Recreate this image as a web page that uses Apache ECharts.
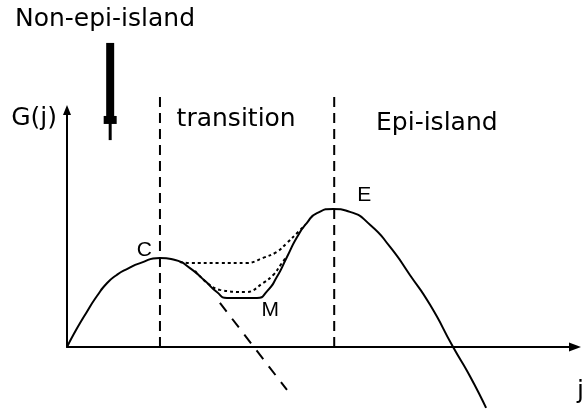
<!DOCTYPE html>
<html><head><meta charset="utf-8">
<script src="https://cdn.jsdelivr.net/npm/echarts@6/dist/echarts.min.js"></script>
<style>html,body{margin:0;padding:0;background:#fff}#c{width:582px;height:417px}</style>
</head><body><div id="c"></div><script>
// ---- data (j, G(j)) in arbitrary schematic units ----
const mainCurve = [[0,0],[0.20,0.80],[0.39,1.48],[0.59,2.15],[0.79,2.70],[0.98,3.04],[1.18,3.29],[1.44,3.54],[1.83,3.76],[2.13,3.67],[2.42,3.33],[2.72,2.78],[2.95,2.32],[3.15,2.07],[3.45,2.07],[3.74,2.07],[3.94,2.36],[4.13,2.95],[4.33,3.80],[4.53,4.64],[4.72,5.23],[4.92,5.65],[5.24,5.82],[5.57,5.70],[5.97,5.15],[6.36,4.22],[6.75,3.04],[7.15,1.77],[7.60,0],[7.93,-1.22],[8.25,-2.57]];
const upperBranch = [[2.22,3.59],[2.42,3.54],[3.01,3.54],[3.54,3.54],[3.86,3.76],[4.13,4.01],[4.33,4.39],[4.53,4.81],[4.69,5.15]];
const lowerBranch = [[2.52,3.21],[2.76,2.70],[3.01,2.41],[3.54,2.32],[3.86,2.70],[4.06,3.04],[4.23,3.54],[4.33,3.84]];
const unstableBranch = [[3.01,1.86],[4.33,-1.81]];
const boundaries = [1.83, 5.26];
const boundaryTop = 10.8;
const arrowJ = 0.85, arrowTop = 12.83, arrowFlange = 9.58, arrowTip = 8.73;
const pointLabels = [['C',1.52,4.09],['E',5.85,6.41],['M',4.00,1.56]];
const regionLabels = [['transition',3.33,9.58],['Epi-island',7.28,9.41]];
const titleText = 'Non-epi-island';
const yName = 'G(j)', xName = 'j';

const FONT = 'DejaVu Sans';
const FS = 25;
const black = '#000';
const series = [];
series.push({type:'line', data: mainCurve, smooth:0.6, symbol:'none', clip:false,
  lineStyle:{color:black, width:2}, z:5});
series.push({type:'line', data: upperBranch, smooth:0.4, symbol:'none', clip:false,
  lineStyle:{color:black, width:2, type:[3,3]}});
series.push({type:'line', data: lowerBranch, smooth:0.4, symbol:'none', clip:false,
  lineStyle:{color:black, width:2, type:[3,3]}});
series.push({type:'line', data: unstableBranch, symbol:'none', clip:false,
  lineStyle:{color:black, width:2, type:[11,9]}});
boundaries.forEach(b => series.push({type:'line', data:[[b,0],[b,boundaryTop]], symbol:'none', clip:false,
  lineStyle:{color:black, width:2, type:[10,6]}}));
series.push({type:'line', data:[[arrowJ,arrowTop],[arrowJ,arrowFlange]], symbol:'none', clip:false,
  lineStyle:{color:black, width:8, cap:'butt'}});
series.push({type:'line', clip:false, lineStyle:{color:black, width:3},
  data:[{value:[arrowJ,arrowFlange], symbol:'rect', symbolSize:[13,8]},{value:[arrowJ,arrowTip], symbol:'none'}],
  itemStyle:{color:black}});
const labelBase = {show:true, position:'inside', formatter:'{b}', color:black, textBorderWidth:0, opacity:1};
series.push({type:'scatter', clip:false, symbolSize:1, itemStyle:{color:'rgba(255,255,255,0)'}, silent:true,
  data: pointLabels.map(p => ({name:p[0], value:[p[1],p[2]]})),
  label:Object.assign({}, labelBase, {fontFamily:'Liberation Sans', fontSize:21})});
series.push({type:'scatter', clip:false, symbolSize:1, itemStyle:{color:'rgba(255,255,255,0)'}, silent:true,
  data: regionLabels.map(p => ({name:p[0], value:[p[1],p[2]]})),
  label:Object.assign({}, labelBase, {fontFamily:FONT, fontSize:FS})});

const chart = echarts.init(document.getElementById('c'), null, {renderer:'canvas'});
chart.setOption({
  animation:false,
  backgroundColor:'#fff',
  title:{text:titleText, left:10, top:2, textStyle:{fontFamily:FONT, fontSize:FS, fontWeight:'normal', color:black}},
  grid:{left:67, right:7, top:110, bottom:70, containLabel:false, outerBoundsMode:'none'},
  xAxis:{type:'value', min:0, max:10, name:xName, nameLocation:'end', nameGap:2,
    nameTextStyle:{fontFamily:FONT, fontSize:FS, color:black, align:'left', verticalAlign:'top', padding:[32,0,0,0]},
    axisLine:{show:true, lineStyle:{color:black, width:2}, symbol:['none','triangle'], symbolSize:[9,12]},
    axisTick:{show:false}, axisLabel:{show:false}, splitLine:{show:false}},
  yAxis:{type:'value', min:0, max:10, name:yName, nameLocation:'end', nameGap:-8,
    nameTextStyle:{fontFamily:FONT, fontSize:FS, color:black, align:'right', verticalAlign:'middle', padding:[0,10,0,0]},
    axisLine:{show:true, lineStyle:{color:black, width:2}, symbol:['none','triangle'], symbolSize:[8,10]},
    axisTick:{show:false}, axisLabel:{show:false}, splitLine:{show:false}},
  series: series
});
</script></body></html>
